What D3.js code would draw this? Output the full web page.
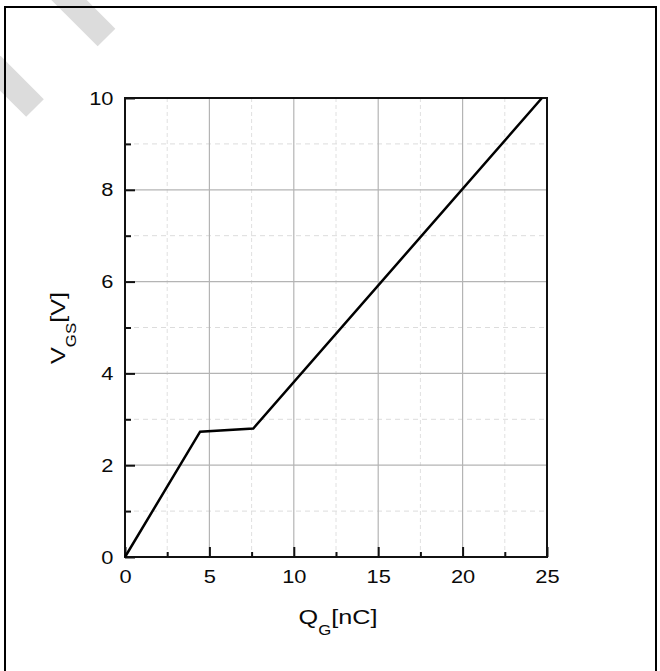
<!DOCTYPE html>
<html>
<head>
<meta charset="utf-8">
<script src="https://cdn.jsdelivr.net/npm/d3@7"></script>
<style>
  body { margin: 0; background: #fff; }
  svg { display: block; }
</style>
</head>
<body>
<script>
// Gate charge curve
const qg = [0, 4.45, 7.6, 24.7];
const vgs = [0, 2.73, 2.80, 10];

// Tick values
const xMajor = [0, 5, 10, 15, 20, 25];
const xMinor = [2.5, 7.5, 12.5, 17.5, 22.5];
const yMajor = [0, 2, 4, 6, 8, 10];
const yMinor = [1, 3, 5, 7, 9];

const w = 660;
const h = 671;
const padL = 125, padR = 547, padT = 98, padB = 557;
const font = "Liberation Sans, Arial, sans-serif";

const svg = d3.select("body").append("svg")
  .attr("width", w)
  .attr("height", h);

// Faint watermark strokes in the corner
svg.append("line")
  .attr("x1", 49).attr("y1", -20).attr("x2", 106.5).attr("y2", 37.5)
  .attr("stroke", "#dcdcdc").attr("stroke-width", 25);
svg.append("line")
  .attr("x1", -20).attr("y1", 53).attr("x2", 35).attr("y2", 108)
  .attr("stroke", "#dcdcdc").attr("stroke-width", 25);

// Outer frame
svg.append("rect")
  .attr("x", 5).attr("y", 7)
  .attr("width", 651).attr("height", 680)
  .attr("fill", "none")
  .attr("stroke", "#000")
  .attr("stroke-width", 2);

const x = d3.scaleLinear().domain([0, 25]).range([padL, padR]);
const y = d3.scaleLinear().domain([0, 10]).range([padB, padT]);

// Minor grid (dashed)
svg.append("g").selectAll("line")
  .data(xMinor).enter().append("line")
  .attr("x1", d => x(d)).attr("x2", d => x(d))
  .attr("y1", padT).attr("y2", padB)
  .attr("stroke", "#e0e0e0").attr("stroke-width", 1)
  .attr("stroke-dasharray", "4,3");
svg.append("g").selectAll("line")
  .data(yMinor).enter().append("line")
  .attr("x1", padL).attr("x2", padR)
  .attr("y1", d => y(d)).attr("y2", d => y(d))
  .attr("stroke", "#dcdcdc").attr("stroke-width", 1)
  .attr("stroke-dasharray", "5,4");

// Major grid (solid)
svg.append("g").selectAll("line")
  .data(xMajor.slice(1, -1)).enter().append("line")
  .attr("x1", d => x(d)).attr("x2", d => x(d))
  .attr("y1", padT).attr("y2", padB)
  .attr("stroke", "#b4b4b4").attr("stroke-width", 1.2);
svg.append("g").selectAll("line")
  .data(yMajor.slice(1, -1)).enter().append("line")
  .attr("x1", padL).attr("x2", padR)
  .attr("y1", d => y(d)).attr("y2", d => y(d))
  .attr("stroke", "#b4b4b4").attr("stroke-width", 1.2);

// Axes with inward ticks
const xAxis = d3.axisBottom(x).tickValues(xMajor).tickSize(-10).tickPadding(13).tickFormat(d3.format("d"));
const xAxisMinor = d3.axisBottom(x).tickValues(xMinor).tickSize(-5).tickFormat("");
const yAxis = d3.axisLeft(y).tickValues(yMajor).tickSize(-10).tickPadding(10).tickFormat(d3.format("d"));
const yAxisMinor = d3.axisLeft(y).tickValues(yMinor).tickSize(-6).tickFormat("");

function styleAxis(g) {
  g.select(".domain").remove();
  g.selectAll(".tick line").attr("stroke", "#111").attr("stroke-width", 2);
  g.selectAll(".tick text")
    .attr("font-family", font)
    .attr("font-size", 19)
    .attr("transform", "scale(1.15,1)")
    .attr("fill", "#0a0a0a");
}

svg.append("g").attr("transform", "translate(0," + padB + ")").call(xAxis).call(styleAxis);
svg.append("g").attr("transform", "translate(0," + padB + ")").call(xAxisMinor).call(styleAxis);
svg.append("g").attr("transform", "translate(" + padL + ",0)").call(yAxis).call(styleAxis);
svg.append("g").attr("transform", "translate(" + padL + ",0)").call(yAxisMinor).call(styleAxis);

// Plot frame
svg.append("rect")
  .attr("x", padL).attr("y", padT)
  .attr("width", padR - padL).attr("height", padB - padT)
  .attr("fill", "none")
  .attr("stroke", "#111")
  .attr("stroke-width", 2);

// Curve
const line = d3.line()
  .x((d, i) => x(qg[i]))
  .y(d => y(d));

svg.append("path")
  .datum(vgs)
  .attr("d", line)
  .attr("fill", "none")
  .attr("stroke", "#000")
  .attr("stroke-width", 2.5)
  .attr("stroke-linejoin", "miter");

// Axis titles (glyphs in the original are a bit wide, hence the stretch)
const xt = svg.append("text")
  .attr("transform", "translate(338,624) scale(1.2,1)")
  .attr("text-anchor", "middle")
  .attr("font-family", font)
  .attr("font-size", 21)
  .attr("fill", "#0a0a0a");
xt.append("tspan").text("Q");
xt.append("tspan").attr("dy", 11).attr("font-size", 14).text("G");
xt.append("tspan").attr("dy", -11).text("[nC]");

const yt = svg.append("text")
  .attr("transform", "translate(65,328) rotate(-90) scale(1.2,1)")
  .attr("text-anchor", "middle")
  .attr("font-family", font)
  .attr("font-size", 21)
  .attr("fill", "#0a0a0a");
yt.append("tspan").text("V");
yt.append("tspan").attr("dy", 11).attr("font-size", 14).text("GS");
yt.append("tspan").attr("dy", -11).text("[V]");
</script>
</body>
</html>
